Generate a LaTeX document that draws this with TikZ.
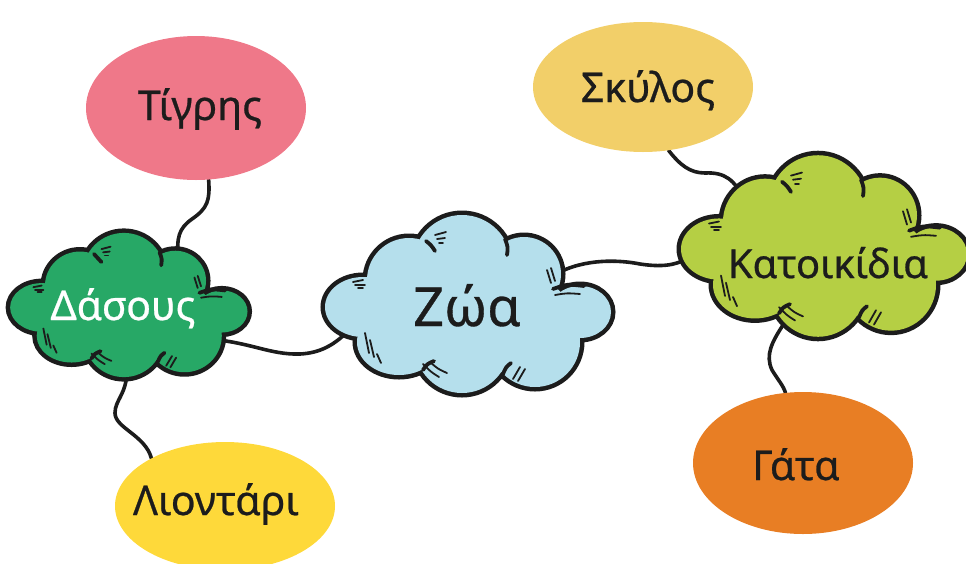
\documentclass[tikz,border=0pt]{standalone}
\usepackage{fontspec}
\setmainfont{Noto Sans}
\newfontfamily\lblfam{Noto Sans}[FakeBold=0.6]
\usetikzlibrary{shapes.geometric}
\pgfdeclarelayer{background}
\pgfsetlayers{background,main}
\definecolor{ink}{HTML}{1C1C1C}
\definecolor{tigpink}{HTML}{EF7889}
\definecolor{skyyel}{HTML}{F2CF69}
\definecolor{lioyel}{HTML}{FED93A}
\definecolor{gatorange}{HTML}{E87E24}
\definecolor{dasgreen}{HTML}{27A866}
\definecolor{zwablue}{HTML}{B5DFEC}
\definecolor{katgreen}{HTML}{B5CF44}
\tikzset{
  bubble/.style={ellipse, draw=none, inner sep=0pt, minimum width=220pt},
  lbl/.style={anchor=base, inner sep=0pt, text=ink, font=\lblfam\fontsize{41}{41}\selectfont},
  link/.style={draw=ink, line width=3.6pt, line cap=round},
  cloudline/.style={draw=ink, line width=9pt},
  curl/.style={draw=ink, line width=3.8pt, line cap=round},
  hatch/.style={draw=ink, line width=1.8pt, line cap=round}
}
\newcommand\mypuffs{-104/3/38/30, -58/-24/42/42, -5/-40/49/49, 57/-30/37/37, 113/8/31/26, 68/38/45/45, -5/42/47/47, -68/38/42/33}
\newcommand\mycloud[5]{%
  \begin{scope}[shift={(#1,#2)}, xscale=#3, yscale=#4]
    \foreach \pa/\pb/\pc/\pd in \mypuffs {\path[cloudline] (\pa,\pb) ellipse [x radius=\pc, y radius=\pd];}
    \foreach \pa/\pb/\pc/\pd in \mypuffs {\fill[#5] (\pa,\pb) ellipse [x radius=\pc, y radius=\pd];}
    \fill[#5] (0,2) ellipse [x radius=100, y radius=40];
    % curls at junctions
    \draw[curl] (-41,-63) .. controls (-36,-59) .. (-32,-53);
    \draw[curl] (38,-65) .. controls (41,-57) .. (40,-49);
    \draw[curl] (86,-15) .. controls (100,-20) .. (117,-18);
    \draw[curl] (-44,66) .. controls (-40,60) .. (-33,57);
    \draw[curl] (36,70) .. controls (39,63) .. (44,59);
    % hatches
    \draw[hatch] (-32,-69) -- (-21,-72);
    \draw[hatch] (-30,-65) -- (-22,-66);
    \draw[hatch] (-28,-61) -- (-24,-61);
    \draw[hatch] (-114,-22) -- (-104,-24);
    \draw[hatch] (-112,-19) -- (-102,-19);
    \draw[hatch] (-109,-16) -- (-104,-16);
    \draw[hatch] (80,-34) -- (84,-21);
    \draw[hatch] (84,-36) -- (88,-23);
    \draw[hatch] (88,-9) .. controls (100,-11) .. (113,-10);
    \draw[hatch] (-102,29) -- (-98,49);
    \draw[hatch] (-97,36) -- (-93,53);
    \draw[hatch] (-90,50) -- (-86,59);
    \draw[hatch] (-44,60) .. controls (-36,68) .. (-28,73);
    \draw[hatch] (-37,58) .. controls (-29,65) .. (-20,69);
    \draw[hatch] (53,63) -- (46,75);
    \draw[hatch] (58,65) -- (51,77);
  \end{scope}}
\begin{document}
\begin{tikzpicture}[x=1pt, y=-1pt]
  \useasboundingbox (0,0) rectangle (966,563);
  % ellipses
  \node[bubble, fill=tigpink, minimum height=144pt] (tig) at (196,108) {};
  \node[bubble, fill=skyyel, minimum height=130pt] (sky) at (643,87) {};
  \node[bubble, fill=lioyel, minimum height=128pt] (lio) at (225,506) {};
  \node[bubble, fill=gatorange, minimum height=142pt] (gat) at (803,463) {};
  % clouds
  \mycloud{128}{305}{0.83}{0.81}{dasgreen}
  \mycloud{467}{304}{1}{1}{zwablue}
  \mycloud{823}{246}{1}{1.02}{katgreen}
  \coordinate (das-n) at (178,258);
  \coordinate (das-s) at (127,372);
  \coordinate (das-e) at (208,339);
  \coordinate (zwa-w) at (350,329);
  \coordinate (zwa-e) at (556,274);
  \coordinate (kat-w) at (688,258);
  \coordinate (kat-n) at (744,200);
  \coordinate (kat-s) at (783,325);
  % labels
  \node[lbl] (t-tig) at (200,120) {Τίγρης};
  \node[lbl] (t-sky) at (648,102) {Σκύλος};
  \node[lbl] (t-lio) at (216,515) {Λιοντάρι};
  \node[lbl] (t-gat) at (796,480) {Γάτα};
  \node[lbl, text=white] (t-das) at (123,320) {Δάσους};
  \node[lbl, font=\lblfam\fontsize{54}{54}\selectfont] (t-zwa) at (467,326) {Ζώα};
  \node[lbl, font=\lblfam\fontsize{40}{40}\selectfont] (t-kat) at (828,278) {Κατοικίδια};
  % connectors
  \begin{pgfonlayer}{background}
    \draw[link] (tig.-80) .. controls (210,200) and (208,208) .. (192,219) .. controls (178,229) and (177,238) .. (das-n);
    \draw[link] (das-s) .. controls (126,395) and (115,400) .. (115,413) .. controls (115,428) and (145,435) .. (lio.147);
    \draw[link] (das-e) .. controls (250,342) and (270,355) .. (300,354) .. controls (320,353) and (335,345) .. (zwa-w);
    \draw[link] (zwa-e) .. controls (585,258) and (620,260) .. (640,264) .. controls (660,267) and (675,266) .. (kat-w);
    \draw[link] (sky.-68) .. controls (680,165) and (690,173) .. (705,173) .. controls (725,172) and (735,180) .. (kat-n);
    \draw[link] (kat-s) .. controls (772,342) and (765,355) .. (772,370) .. controls (778,380) and (783,385) .. (gat.104);
  \end{pgfonlayer}
\end{tikzpicture}
\end{document}
